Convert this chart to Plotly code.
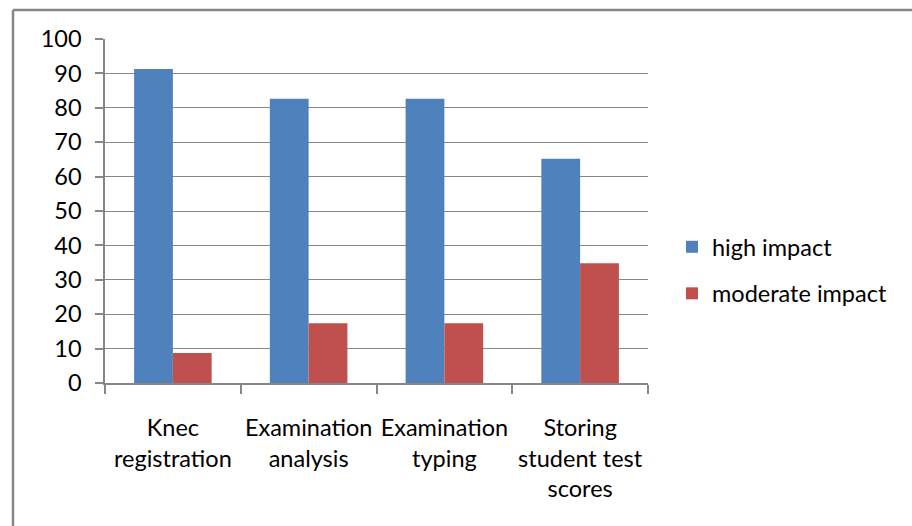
import plotly.graph_objects as go

# Share of respondents (%) rating the impact of computerisation on each task
categories = ["Knec<br>registration", "Examination<br>analysis", "Examination<br>typing",
              "Storing<br>student test<br>scores"]
high_impact = [91.3, 82.6, 82.6, 65.2]
moderate_impact = [8.7, 17.4, 17.4, 34.8]
y_ticks = list(range(0, 101, 10))

W, H = 912, 526
L, R, T, B = 105, 648, 39, 383  # plot area in pixels

FONT = "Lato"
FS = 23.5
GRID = "#878787"

fig = go.Figure()
fig.add_trace(go.Bar(name="high impact", x=categories, y=high_impact,
                     marker=dict(color="#4F81BD", line=dict(width=0)),
                     legendgroup="a"))
fig.add_trace(go.Bar(name="moderate impact", x=categories, y=moderate_impact,
                     marker=dict(color="#C0504D", line=dict(width=0)),
                     legendgroup="b"))

def px_x(p):
    return (p - L) / (R - L)

def px_y(p):
    return (B - p) / (B - T)

fig.update_layout(
    width=W, height=H,
    margin=dict(l=L, r=W - R, t=T, b=H - B, pad=0, autoexpand=False),
    paper_bgcolor="white", plot_bgcolor="white",
    barmode="group", bargap=0.4286, bargroupgap=0,
    font=dict(family=FONT, size=FS, color="black"),
    showlegend=True,
    legend=dict(x=px_x(672), y=px_y(225), xanchor="left", yanchor="top",
                font=dict(size=FS), itemwidth=30, tracegroupgap=13,
                traceorder="grouped", bgcolor="rgba(0,0,0,0)"),
    xaxis=dict(showline=True, linecolor=GRID, linewidth=1.5,
               ticks="outside", ticklen=9, tickcolor=GRID, tickwidth=1.5,
               tickson="boundaries", showgrid=False, tickangle=0,
               automargin=False, tickfont=dict(size=FS),
               ticklabelstandoff=23, fixedrange=True),
    yaxis=dict(range=[0, 100], tickvals=y_ticks, showline=True,
               linecolor=GRID, linewidth=1.5, ticks="outside", ticklen=8,
               tickcolor=GRID, tickwidth=1.5, showgrid=True, gridcolor=GRID,
               gridwidth=1.3, zeroline=False, tickfont=dict(size=FS),
               automargin=False, ticklabelstandoff=9, fixedrange=True),
    shapes=[
        # chart frame (top and left edges visible)
        dict(type="line", xref="paper", yref="paper",
             x0=px_x(13), x1=px_x(W + 5), y0=px_y(10), y1=px_y(10),
             line=dict(color="#868686", width=2.5)),
        dict(type="line", xref="paper", yref="paper",
             x0=px_x(13), x1=px_x(13), y0=px_y(10), y1=px_y(H + 5),
             line=dict(color="#868686", width=2.5)),
    ],
)

fig.write_html("out.html")
